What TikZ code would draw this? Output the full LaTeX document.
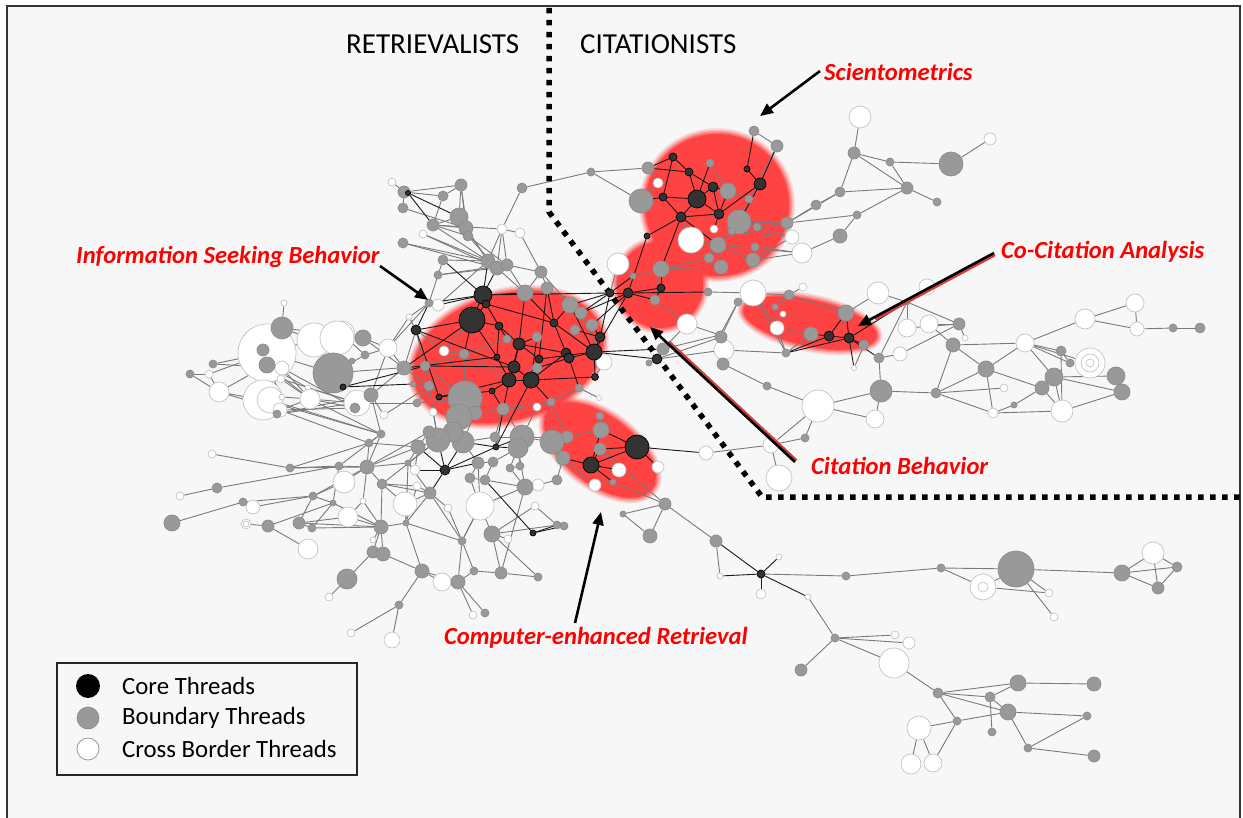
\documentclass[tikz,border=0pt]{standalone}
\usepackage{fontspec}
\setmainfont{Carlito}
\usetikzlibrary{arrows.meta,calc}
\definecolor{bgc}{HTML}{F7F7F7}
\definecolor{blobred}{HTML}{FF4242}
\definecolor{coref}{HTML}{333333}
\definecolor{bndf}{HTML}{999999}
\definecolor{bndd}{HTML}{8C8C8C}
\definecolor{whd}{HTML}{C4C4C4}
\definecolor{gedge}{HTML}{7A7A7A}
\definecolor{labred}{HTML}{FF0000}
\definecolor{shadowred}{HTML}{D04040}
\pgfdeclarelayer{bgl}
\pgfdeclarelayer{blobs}
\pgfdeclarelayer{edges}
\pgfsetlayers{bgl,blobs,edges,main}
\newcommand{\redblob}[5]{%
  \begin{scope}[shift={(#1,#2)},rotate=#5]
    \fill[blobred,opacity=0.15] (0,0) ellipse [x radius=#3+5, y radius=#4+5];
    \fill[blobred,opacity=0.22] (0,0) ellipse [x radius=#3+3.5, y radius=#4+3.5];
    \fill[blobred,opacity=0.32] (0,0) ellipse [x radius=#3+2, y radius=#4+2];
    \fill[blobred,opacity=0.5] (0,0) ellipse [x radius=#3+0.5, y radius=#4+0.5];
    \fill[blobred] (0,0) ellipse [x radius=#3-1, y radius=#4-1];
  \end{scope}}
\begin{document}
\begin{tikzpicture}[x=1pt,y=-1pt,
  cnode/.style={circle,inner sep=0pt,fill=coref,draw=black,line width=0.7pt},
  bnode/.style={circle,inner sep=0pt,fill=bndf,draw=bndd,line width=0.7pt},
  wnode/.style={circle,inner sep=0pt,fill=white,draw=whd,line width=0.7pt},
  gline/.style={draw=gedge,line width=0.9pt},
  kline/.style={draw=black!90,line width=0.9pt},
  arr/.style={line width=2.6pt,-{Triangle[length=13pt,width=11pt]}},
  shad/.style={line width=2.6pt,shadowred},
  lab/.style={text=labred,font=\fontsize{24.6}{28}\selectfont\bfseries\itshape,anchor=west,inner sep=0pt},
  head/.style={font=\fontsize{29}{32}\selectfont,anchor=west,inner sep=0pt},
  legtxt/.style={font=\fontsize{24.8}{28}\selectfont,anchor=west,inner sep=0pt}]
\useasboundingbox (0,0) rectangle (1243,818);
\begin{pgfonlayer}{bgl}
\fill[white] (0,0) rectangle (1243,818);
\fill[bgc] (7,6) rectangle (1240,818);
\end{pgfonlayer}
\draw[line width=1.6pt,black!80] (7,818) -- (7,6) -- (1240,6) -- (1240,818);

% red clouds
\begin{pgfonlayer}{blobs}
\redblob{508}{357}{98}{64}{16}
\redblob{600}{450}{66}{35}{-37}
\redblob{717}{205}{73}{72}{0}
\redblob{660}{285}{44}{44}{0}
\redblob{810}{323}{69}{24}{-12}
\end{pgfonlayer}

% divider
\draw[line width=5.5pt,dash pattern=on 5.5pt off 6.5pt] (549,8) -- (549,212) -- (762,497) -- (1240,497);

% white nodes
\foreach \n/\x/\y/\r in {w1/392/182/4, w2/423/234/4, w3/502/229/5, w4/520/233/5, w5/438/305/6, w6/604/362/8, w7/444/351/5, w8/388/348/9, w9/456/409/5, w10/433/412/4, w11/537/407/4, w12/599/398/2.5, w13/619/470/7, w14/658/467/6, w15/405/504/12, w16/480/506/14, w17/538/485/6, w18/595/485/6, w19/618/264/11, w20/687/324/10, w21/658/183/5, w22/714/229/4, w23/691/240/13, w24/792/237/7, w25/802/253/10, w26/753/293/13, w27/803/287/4, w28/783/314/3, w29/777/328/7, w30/860/117/11, w31/990/139/6, w32/878/293/11, w33/927/287/8, w34/854/368/2.5, w35/907/328/9, w36/929/324/9, w37/965/338/3, w38/900/354/7, w39/1025/343/9, w40/1090/363/15, w41/1085/319/10, w42/1135/303/9, w43/1137/329/7, w44/1004/388/4, w45/993/413/5, w46/1062/411/11, w47/818/406/16, w48/875/419/9, w49/724/350/10, w50/706/453/7, w51/771/445/8, w52/779/478/13, w53/779/557/3, w54/720/576/3, w55/761/594/5, w56/808/597/3, w57/983/587/13, w58/1049/593/4, w59/1054/617/4, w60/1153/553/11, w61/895/635/4, w62/909/643/6, w63/894/663/15, w64/919/728/12, w65/911/764/10, w66/933/763/9, w67/284/303/3, w68/267/353/29, w69/282/368/7, w70/281/379/4, w71/314/340/17, w72/342/334/13, w73/337/338/17, w75/209/374/4, w76/219/392/10, w77/263/400/20, w78/270/400/13, w79/282/397/3, w80/280/410/7, w81/308/388/3, w82/310/399/10, w83/357/403/13, w84/384/415/4, w85/212/454/4, w86/409/317/3, w88/415/470/5, w89/417/486/4, w90/448/508/4, w91/344/482/11, w92/180/496/4, w93/253/507/7, w94/246/524/5, w95/348/517/10, w96/363/501/3, w97/308/549/10, w98/373/540/3, w99/442/582/9, w100/508/539/4, w101/329/597/4, w102/351/633/4, w103/392/640/8, w104/473/615/4, w105/535/506/4}
  \node[wnode,minimum size={2*\r*1pt}] (\n) at (\x,\y) {};
\draw[whd,line width=0.7pt] (w40) circle[radius=9pt] (w40) circle[radius=4pt];
\draw[whd,line width=0.7pt] (w57) circle[radius=5pt];
\draw[whd,line width=0.7pt] (w94) circle[radius=3pt];

% boundary nodes
\foreach \n/\x/\y/\r in {b1/404/192/6, b2/461/185/6, b3/443/196/5, b4/403/208/5, b5/459/217/9, b6/433/225/6, b7/466/228/7, b8/468/236/5, b9/403/243/5, b10/522/188/5, b11/591/172/4, b12/443/260/5, b13/488/261/7, b14/497/268/7, b15/507/265/6, b16/438/275/4, b17/541/272/6, b18/429/303/4, b19/525/293/8, b20/547/288/6, b21/570/305/8, b22/581/313/6, b23/592/325/6, b24/507/339/4, b25/537/337/5, b26/575/330/5, b27/537/368/5, b28/464/354/5, b29/425/366/5, b30/404/368/7, b31/429/386/5, b32/465/398/17, b33/475/413/7, b34/459/417/13, b35/503/409/6, b36/551/402/4, b37/579/388/4, b38/600/416/4, b39/601/430/8, b40/600/449/6, b41/567/437/6, b42/552/442/12, b43/563/458/7, b44/522/437/12, b45/518/448/10, b46/463/442/11, b47/453/432/10, b48/438/440/12, b49/429/432/6, b50/478/463/6, b51/493/462/5, b52/470/478/5, b53/430/493/6, b54/525/487/8, b55/557/480/5, b56/613/482/3, b57/665/504/6, b58/661/269/8, b59/633/276/3, b60/655/300/5, b61/663/349/6, b62/649/363/3, b63/754/131/5, b64/777/146/6, b65/710/163/4, b66/648/168/6, b67/728/191/8, b68/641/201/12, b69/749/199/4, b70/739/222/12, b71/757/227/4, b72/732/231/4, b73/718/245/8, b74/787/223/6, b75/816/205/5, b76/755/247/4, b77/709/258/5, b78/721/267/7, b79/753/260/7, b81/708/292/4, b82/738/302/4, b83/789/295/5, b84/775/307/3, b85/720/335/4, b87/854/153/6, b88/890/162/4, b89/951/164/12, b90/840/192/5, b91/907/188/6, b92/937/202/4, b94/857/215/4, b96/840/236/7, b97/846/313/8, b98/811/334/7, b99/786/353/4, b100/864/345/5, b101/879/358/5, b102/907/302/3, b103/959/324/6, b104/953/345/7, b105/986/369/8, b106/1061/351/5, b107/1070/363/4, b108/1173/328/4, b109/1200/328/5, b110/1054/377/9, b111/1116/376/9, b112/1122/392/8, b113/1042/388/7, b114/881/391/11, b115/936/393/5, b116/1014/405/3, b117/767/386/4, b118/723/364/6, b119/721/337/6, b120/805/438/4, b122/623/514/3, b123/650/536/7, b124/716/541/6, b125/846/576/4, b126/941/568/4, b127/1016/569/18, b128/1122/573/8, b129/1177/567/5, b130/1158/588/6, b131/835/638/4, b132/801/670/6, b133/938/693/5, b134/990/697/5, b135/1018/683/8, b136/1094/684/7, b137/1008/712/8, b138/957/721/4, b139/992/732/4, b140/1087/716/4, b141/1028/748/4, b142/1094/756/6, b143/282/328/11, b144/263/350/6, b145/267/365/8, b146/363/338/8, b147/365/355/4, b148/352/361/3, b149/333/373/20, b150/213/364/4, b151/190/374/4, b152/277/414/4, b153/355/408/5, b154/371/395/7, b155/381/434/4, b156/369/443/4, b158/413/384/3, b159/417/403/4, b161/418/447/7, b162/290/468/4, b163/339/466/4, b164/367/467/7, b165/382/484/5, b166/408/463/3, b168/217/488/5, b169/172/523/8, b170/243/502/4, b171/268/526/6, b172/299/523/6, b173/312/528/4, b174/313/496/4, b175/333/503/3, b176/381/527/7, b177/406/523/3, b178/373/552/6, b179/383/554/7, b180/422/571/7, b181/458/582/7, b182/462/541/4, b183/474/571/4, b184/501/573/6, b185/492/534/8, b186/557/525/4, b187/564/526/4, b188/538/577/4, b189/347/579/10, b190/399/605/4, b191/485/613/4, b193/510/468/4, b194/520/466/4, b195/485/480/5, b196/495/437/5}
  \node[bnode,minimum size={2*\r*1pt}] (\n) at (\x,\y) {};

% core nodes
\foreach \n/\x/\y/\r in {c1/408/193/2.5, c2/483/295/9, c3/486/304/4, c4/472/320/13, c5/416/330/5, c6/554/323/4, c7/499/326/4, c8/519/344/6, c9/600/337/5, c10/594/352/8, c11/595/377/3.5, c12/566/353/5, c13/569/358/5, c14/539/359/4, c15/514/367/6, c16/509/380/7, c17/531/380/8, c18/497/357/3, c19/492/391/3, c20/439/397/3, c21/343/387/3, c22/637/447/12, c23/591/465/8, c24/496/447/3, c25/445/470/5, c26/533/533/3, c27/610/293/4, c28/628/293/5, c29/661/288/4, c30/657/359/5, c31/673/157/4, c32/689/172/4, c33/747/169/3, c34/713/187/5, c35/760/184/6, c36/697/199/9, c37/663/197/4, c38/681/217/5, c39/719/214/5, c40/647/236/3, c41/829/336/5, c42/849/338/5, c43/761/574/4}
  \node[cnode,minimum size={2*\r*1pt}] (\n) at (\x,\y) {};

\begin{pgfonlayer}{edges}
\foreach \a/\b in {w1/b1, b1/b2, b1/b3, b3/b2, b3/b6, b2/b8, b2/b7, b4/b7, b6/b7, b6/b8, b6/b13, b6/w3, b5/b13, b7/b13, b8/b14, b8/b15, w2/b13, w2/b14, b9/b13, b9/b14, w3/w4, w3/b13, w3/b14, w3/b15, w4/b17, b10/w3, b10/b11, b11/b66, b11/b68, b12/b13, b16/b15, b16/b14, b17/b20, b17/b21, b18/w86, b18/w5, w5/b13, b15/b19, b14/b19,
 w7/b28, w7/c4, w6/c10, w6/c11, w6/b22, w12/b37, w11/b35, w11/b36, b36/b42, b37/b36, b36/b41, b38/b39, b39/b41, b42/b41, b42/b43, b44/b42, b24/b28,
 b29/b30, b30/b31, b29/b31, b29/b28, b31/b48, b158/b31, b159/b31, b159/b32, b161/b49, b161/w88, b46/b47, b47/b48, b48/b49, b46/b50, b46/b34, b34/b32, b32/b33, b33/b35, b35/b44, b44/b45, b45/b51, b51/b50, b50/b52, b52/b195, b195/b51, b193/b194, b193/b44, b194/b45, b54/b193, b54/w17, w17/b55, b55/b43, b54/b195, b196/b44, b196/b46, w9/b32, w9/b33, w10/b48, b34/b47,
 b56/b57, b40/b57, w18/b56, w18/b43, b57/b122, b57/b123, b57/b124, b122/b123,
 w67/b143, b143/b146, b143/w71, w68/b149, w68/w71, w71/b146, w72/b146, w73/b146, w71/b149, w72/b147, b146/w8, b146/b30, b147/w8, w8/b30, w8/b18, w8/w86, b148/b149, b150/w68, b150/w69, b151/w75, w75/w68, b151/w76, w76/w77, w76/b145, w77/w78, w77/b152, b145/w82, b145/w81, w81/w83, w82/w83, w80/w82, w83/b154, b153/b154, b154/w8, b154/b30, b154/b155, b155/b156, w84/b31, w84/b154, w70/w83, w69/w82, b152/w83, w80/b153, w79/w82, b149/b29, b149/b147, b144/w68, b143/w68,
 b156/b164, b155/b164, b164/b163, b164/w91, b164/b165, b164/b166, b163/b162, w85/b162, b162/b156, w92/b168, b168/b163, b169/b170, b165/w89, b165/b176, w91/b174, b174/b175, b170/w93, b174/w93, b174/b172, b175/b173, b171/b175, b171/w97, b171/w94, b172/b173, w96/w95, w96/b176, w96/b164, w95/b176, b176/b177, b176/w98, b176/b178, b176/b179, b177/b53, b177/b182, b178/b179, b179/b180, b178/b189, b189/w101, b180/w99, b180/b181, b180/b190, b190/w102, b190/w103, b181/b182, b181/b183, b183/b184, b182/w16, b184/b185, b185/w100, b185/b188, w15/b53, w15/b177, w15/b165, w16/b54, w16/b182, w104/b181, b191/b181, b53/w90, w90/b182, b166/b48, b166/b161, b165/b53, b173/b176, b172/w95, b188/b184, b185/b186, b186/b187, b184/b54, w89/b53, w88/b166, w105/b185, w105/b186,
 w77/b155, w78/b155, w80/b156, w82/b155, w83/b159, w82/b153, w69/b153, w70/w82, b145/w79, b152/b154, w76/w80, w75/w76, b162/b164, b163/b155, b164/b49, b165/b48, b166/b53, b174/b164, b172/b176, b170/b174, b175/b176, b177/b180, b182/b183, w16/b185, b53/b182, b52/w16, b50/w16, b161/b48, b161/b164, b166/b177, w89/b177, b156/b161, b163/b175, b34/b48, b33/b46, b35/b196, b196/c24, b45/b54, b44/b41, b36/b35, w11/b44, b32/b29, b31/b32, b30/c5, b29/c5, w7/c5, b28/c16, b28/b32, b12/b16, b16/b18, w86/c5, b5/b6, b4/b1, b2/b5, b15/b17, b17/b19,
 b63/b64, w21/b66, b70/b72, b70/b71, b70/b74, b71/b74, b67/b65, b69/b67, b72/b73, b73/b77, b73/b78, b73/b79, b74/b75, b75/b90, b76/b79, b77/b58, b78/b58, b79/w25, b79/w24, b76/w25, b58/b59, b58/b60, b72/w24, b73/w25, b70/w24, w23/b73, w23/c38, w19/b59, w19/c27, b81/w26, w26/b82, w26/b83, b83/w27, b85/b82, b85/w49, b85/w20, b61/w20, b61/b85, w20/b60, b68/w21, b69/b70, b64/b69,
 w49/b118, b118/b117, b117/w47, w49/b99, b119/w49, b119/b82, b119/c30, c30/w49, w29/b98, w29/b84, b84/w28, b84/b83, w28/b97, b97/w32, w32/b102, b102/w35, w35/b103, w36/b103, b103/w37, b103/w38, w38/b101, b100/w34, b101/b102, w36/b104, b104/w39, b104/b105, b104/b115, b105/w39, b105/b115, b105/w45, b105/b113, b115/w44, b115/w45, b115/b114, b114/w48, b114/w47, b114/b101, b113/b116, b113/w46, b110/w46, b110/b111, b110/b112, b106/w46, w39/w41, w39/b106, w39/b107, w39/b110, w39/w40, w41/w42, w41/w43, w42/w43, w43/b108, b108/b109, w46/b112, w45/w46, b116/w45, b106/b107, w33/b102, b99/b98, b102/b103, b99/w26, w26/w29, w29/b99, b83/b97, b85/b119, w47/w48,
 w30/b87, b87/b88, b88/b89, b87/b90, b87/b91, b88/b91, b91/b92, b90/b91, b89/w31, b74/b94, b91/b94, b94/b96, b96/w25, b90/b74,
 w50/w51, w51/b120, w51/w52, w51/w47, b124/w54, b125/b126, b126/w57, b126/b127, w57/b127, b127/b128, b127/w58, b127/w59, w57/w58, b128/w60, b128/b129, b128/b130, w60/b129, w60/b130, b129/b130, c43/b125, w56/b131, b131/b132, b131/w61, b131/w62, b131/w63, w63/b133, b133/b135, b133/b137, b133/b134, b133/b138, b134/b135, b134/b137, b134/b139, b138/b137, b138/w64, w64/w65, w64/w66, b138/w66, b135/b136, b137/b140, b140/b141, b141/b142, b137/b141, b120/w47}
  \draw[gline] (\a) -- (\b);
\foreach \a/\b in {c1/b5, c1/b6, c1/b1, b12/c2, b13/c2, b14/c2, b18/c2, w5/c2, c2/c27, c2/c3, c3/c4, c2/c4, c2/b19, c3/c7, c3/c6, c4/c5, c4/c7, c4/b28, c4/c18, c4/b30, c5/c20, c5/c15, c5/b18, c7/c8, c7/c18, c7/b24, c6/c12, c6/c10, c6/b19, c6/b21, c8/c15, c8/c16, c8/c14, c8/c12, c8/b25, c15/c16, c15/c17, c16/c17, c16/c19, c17/c14, c17/c12, c12/c13, c13/c10, c13/b27, c14/c10, c10/c9, c10/c11, c9/b23, c9/b26, c10/c28, c10/c30, c9/c27, c11/c17, c18/c16, c19/c20, b19/c8, b20/c14, b20/c6, b21/c10, b25/c17, c15/b29, c18/b30, c20/c16, c17/b36, c13/b37, c16/c24, c17/c24, c19/b35, c21/b29, c21/b158, c22/c23, c22/b39, c22/b40, c22/w50, c23/b43, c23/w13, c23/b56, c23/b39, c23/b40, c22/w14, c25/b46, c25/b48, c25/c24, c25/b50, c25/b53, c25/b161, c25/w88, c24/b44, c24/b45, c24/b46, c26/b186, c26/b195, c26/b187, c31/c32, c31/c37, c31/b66, c32/c34, c32/c36, c32/b66, c34/c36, c34/c39, c33/c35, c33/b63, c35/b64, c35/c39, c36/c37, c36/c38, c36/c39, c37/c38, c37/b68, c38/c40, c38/b73, c38/c39, c39/b67, c39/w22, c36/b65, c38/b58, c40/c28, c35/b70, c34/b67, c27/c28, c28/c29, c28/b81, c27/b59, c27/b21, c27/b22, c28/b22, c28/b23, c28/b60, c29/b60, c29/b58, c10/b61, c30/b62, c41/c42, c41/b98, c41/b97, c42/b97, c42/b102, c42/w34, c41/b99, c42/b99, c42/b100, c42/b101, c43/b124, c43/w54, c43/w53, c43/w55, c43/w56}
  \draw[kline] (\a) -- (\b);
\end{pgfonlayer}

% headings and labels
\node[head] (ret) at (346,44) {RETRIEVALISTS};
\node[head] (cit) at (580,44) {CITATIONISTS};
\node[lab] (lsci) at (824,72) {Scientometrics};
\node[lab] (lisb) at (76,257) {Information Seeking Behavior};
\node[lab] (lcca) at (1001,252) {Co-Citation Analysis};
\node[lab] (lcb) at (811,466) {Citation Behavior};
\node[lab] (lcer) at (444,638) {Computer-enhanced Retrieval};

% arrows
\coordinate (aS1) at (820,71);  \coordinate (aS2) at (760,116);
\coordinate (aI1) at (380,266); \coordinate (aI2) at (428,300);
\coordinate (aC1) at (994,253); \coordinate (aC2) at (858,326);
\coordinate (aB1) at (795,462); \coordinate (aB2) at (650,327);
\coordinate (aR1) at (575,623); \coordinate (aR2) at (601,512);
\coordinate (sC1) at ($(aC1)+(1,2)$); \coordinate (sC2) at ($(aC2)!0.12!(aC1)+(1,2)$);
\coordinate (sB1) at ($(aB1)+(1.5,-1.6)$); \coordinate (sB2) at ($(aB2)!0.12!(aB1)+(1.5,-1.6)$);
\draw[shad] (sC1) -- (sC2);
\draw[shad] (sB1) -- (sB2);
\draw[arr] (aS1) -- (aS2);
\draw[arr] (aI1) -- (aI2);
\draw[arr] (aC1) -- (aC2);
\draw[arr] (aB1) -- (aB2);
\draw[arr] (aR1) -- (aR2);

% legend
\node[draw=black!85,line width=1.2pt,fill=bgc,minimum width=300pt,minimum height=112pt,inner sep=0pt] (legbox) at (207,719) {};
\node[circle,inner sep=0pt,fill=black,minimum size=24pt] (lg1) at (88,686) {};
\node[bnode,minimum size=22pt] (lg2) at (88,718) {};
\node[circle,inner sep=0pt,fill=white,draw=gray!80,line width=0.8pt,minimum size=22pt] (lg3) at (88,749) {};
\node[legtxt] (lt1) at (122,686) {Core Threads};
\node[legtxt] (lt2) at (122,718) {Boundary Threads};
\node[legtxt] (lt3) at (122,749) {Cross Border Threads};
\end{tikzpicture}
\end{document}
